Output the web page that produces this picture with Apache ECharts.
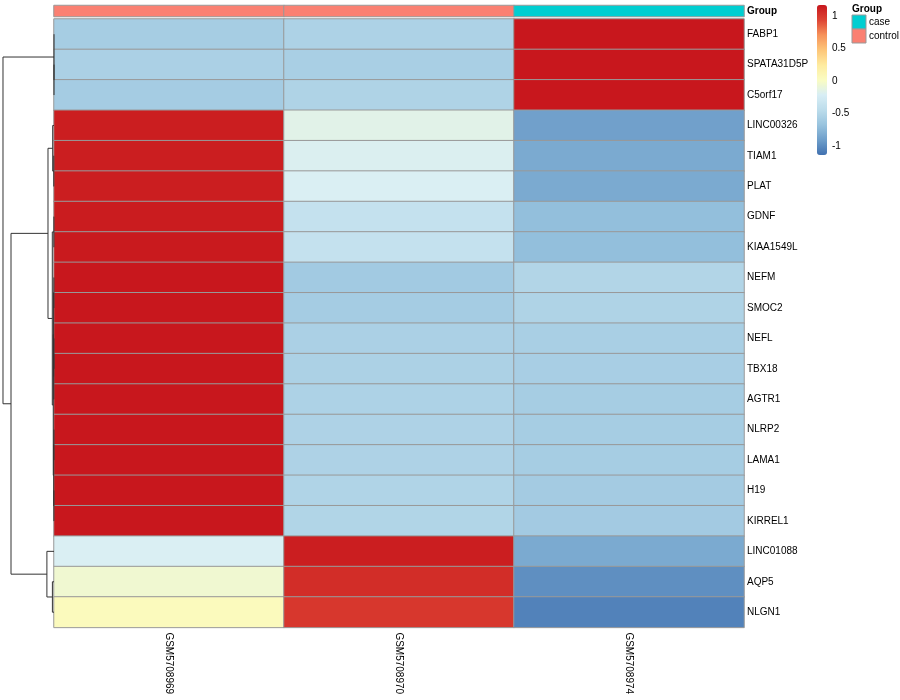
<!DOCTYPE html>
<html><head><meta charset="utf-8">
<script src="https://cdn.jsdelivr.net/npm/echarts@6/dist/echarts.min.js"></script>
<style>html,body{margin:0;padding:0;background:#fff}#c{width:900px;height:700px}</style>
</head><body><div id="c"></div>
<script>
// ---- data ----
const samples = ['GSM5708969', 'GSM5708970', 'GSM5708974'];
const sampleGroup = ['control', 'control', 'case'];
const groupLevels = ['case', 'control'];
const groupColors = ['#00CED1', '#FA8072'];
const genes = ['FABP1','SPATA31D5P','C5orf17','LINC00326','TIAM1','PLAT','GDNF','KIAA1549L',
  'NEFM','SMOC2','NEFL','TBX18','AGTR1','NLRP2','LAMA1','H19','KIRREL1','LINC01088','AQP5','NLGN1'];
// row z-scores per sample (same order as genes)
const zGSM5708969 = [-0.60,-0.57,-0.61, 1.12, 1.12, 1.12, 1.13, 1.14, 1.155,1.155,1.155,1.155,1.155,1.155,1.155,1.155,1.155,-0.22,-0.07, 0.03];
const zGSM5708970 = [-0.555,-0.585,-0.545,-0.17,-0.21,-0.22,-0.40,-0.40,-0.63,-0.61,-0.57,-0.565,-0.555,-0.55,-0.55,-0.54,-0.53, 1.12, 1.04, 0.99];
const zGSM5708974 = [1.155, 1.155, 1.155,-0.91,-0.85,-0.85,-0.72,-0.72,-0.525,-0.545,-0.585,-0.59,-0.60,-0.605,-0.605,-0.615,-0.625,-0.85,-1.0,-1.07];
// row dendrogram (hclust style merge table, negative = leaf in display order)
const mergeA = [-2,-1,-5,-4,-7,-9,-11,7,6,-14,-16,10,9,5,4,-19,-18,15,2];
const mergeB = [-3,1,-6,3,-8,-10,-12,-13,8,-15,-17,11,12,13,14,-20,16,17,18];
const mergeH = [0,0,0.01,0.063,0.005,0.005,0.004,0.01,0.02,0.003,0.006,0.015,0.035,0.082,0.289,0.077,0.342,2.07,2.456];
// colour scale
const scaleMin = -1.1547, scaleMax = 1.1547;
const legendTicks = [-1, -0.5, 0, 0.5, 1];
const palette = ['#4171B0','#6E9ECA','#98C3DE','#BCDCEB','#D8EEF5','#FAFCC2','#FEEB9F','#FDC578','#F6925A','#DD4434','#C8171D'];

// ---- build ----
const cols = [zGSM5708969, zGSM5708970, zGSM5708974];
const heatData = [];
cols.forEach((arr, ci) => arr.forEach((v, gi) => heatData.push([ci, gi, v])));
const annData = sampleGroup.map((g, ci) => [ci, 0, groupLevels.indexOf(g)]);

const nodes = [];
function pos(ref) {
  if (ref < 0) return { h: 0, y: -ref - 1 };
  return nodes[ref - 1];
}
const dendroLines = [];
for (let i = 0; i < mergeA.length; i++) {
  const a = pos(mergeA[i]), b = pos(mergeB[i]);
  const h = mergeH[i];
  nodes.push({ h: h, y: (a.y + b.y) / 2 });
  dendroLines.push({ coords: [[a.h, a.y], [h, a.y], [h, b.y], [b.h, b.y]] });
}

const FONT = 'Liberation Sans, Arial, sans-serif';
const chart = echarts.init(document.getElementById('c'));
const graphics = [{
  type: 'text', left: 852, top: 4,
  style: { text: 'Group', font: 'bold 10px ' + FONT, fill: '#000' }
}];
groupLevels.forEach((g, i) => {
  graphics.push({ type: 'rect', shape: { x: 852, y: 15 + i * 14, width: 14, height: 14 },
    style: { fill: groupColors[i], stroke: '#999', lineWidth: 1 } });
  graphics.push({ type: 'text', x: 869, y: 22 + i * 14,
    style: { text: g, font: '10px ' + FONT, fill: '#000', verticalAlign: 'middle' } });
});

chart.setOption({
  animation: false,
  backgroundColor: '#fff',
  grid: [
    { left: 54, top: 19, width: 690, height: 608.4 },
    { left: 54, top: 5.5, width: 690, height: 11 },
    { left: 0, top: 19, width: 54, height: 608.4 },
    { left: 817, top: 6, width: 10, height: 150 }
  ],
  xAxis: [
    { gridIndex: 0, type: 'category', data: samples, position: 'bottom',
      axisLine: { show: false }, axisTick: { show: false },
      axisLabel: { rotate: -90, margin: 5, fontSize: 10, color: '#000', fontFamily: FONT } },
    { gridIndex: 1, type: 'category', data: samples, show: false },
    { gridIndex: 2, type: 'value', min: 0, max: 2.6, inverse: true, show: false },
    { gridIndex: 3, type: 'value', min: 0, max: 1, show: false }
  ],
  yAxis: [
    { gridIndex: 0, type: 'category', data: genes, inverse: true, position: 'right',
      axisLine: { show: false }, axisTick: { show: false },
      axisLabel: { margin: 3, fontSize: 10, color: '#000', fontFamily: FONT } },
    { gridIndex: 1, type: 'category', data: ['Group'], position: 'right',
      axisLine: { show: false }, axisTick: { show: false },
      axisLabel: { margin: 3, fontSize: 10, fontWeight: 'bold', color: '#000', fontFamily: FONT } },
    { gridIndex: 2, type: 'value', min: -0.5, max: genes.length - 0.5, inverse: true, show: false },
    { gridIndex: 3, type: 'value', min: scaleMin, max: scaleMax, position: 'right',
      axisLine: { show: false }, axisTick: { show: false }, splitLine: { show: false },
      axisLabel: { customValues: legendTicks, margin: 5, fontSize: 10, color: '#000', fontFamily: FONT } }
  ],
  visualMap: [
    { type: 'continuous', seriesIndex: 0, dimension: 2, min: scaleMin, max: scaleMax,
      inRange: { color: palette }, left: 817, top: 5, itemWidth: 10, itemHeight: 150,
      padding: 0, calculable: false, hoverLink: false, text: null, show: true },
    { type: 'piecewise', seriesIndex: 1, dimension: 2, show: false,
      pieces: groupLevels.map((g, i) => ({ value: i, color: groupColors[i] })) }
  ],
  graphic: graphics,
  series: [
    { type: 'heatmap', xAxisIndex: 0, yAxisIndex: 0, data: heatData,
      itemStyle: { borderColor: '#999', borderWidth: 1 }, emphasis: { disabled: true }, silent: true },
    { type: 'heatmap', xAxisIndex: 1, yAxisIndex: 1, data: annData,
      itemStyle: { borderColor: '#999', borderWidth: 1 }, emphasis: { disabled: true }, silent: true },
    { type: 'lines', coordinateSystem: 'cartesian2d', xAxisIndex: 2, yAxisIndex: 2,
      polyline: true, data: dendroLines, silent: true,
      lineStyle: { color: '#333', width: 1, opacity: 1 } },
    { type: 'scatter', xAxisIndex: 3, yAxisIndex: 3, data: [], silent: true }
  ]
});
</script></body></html>
